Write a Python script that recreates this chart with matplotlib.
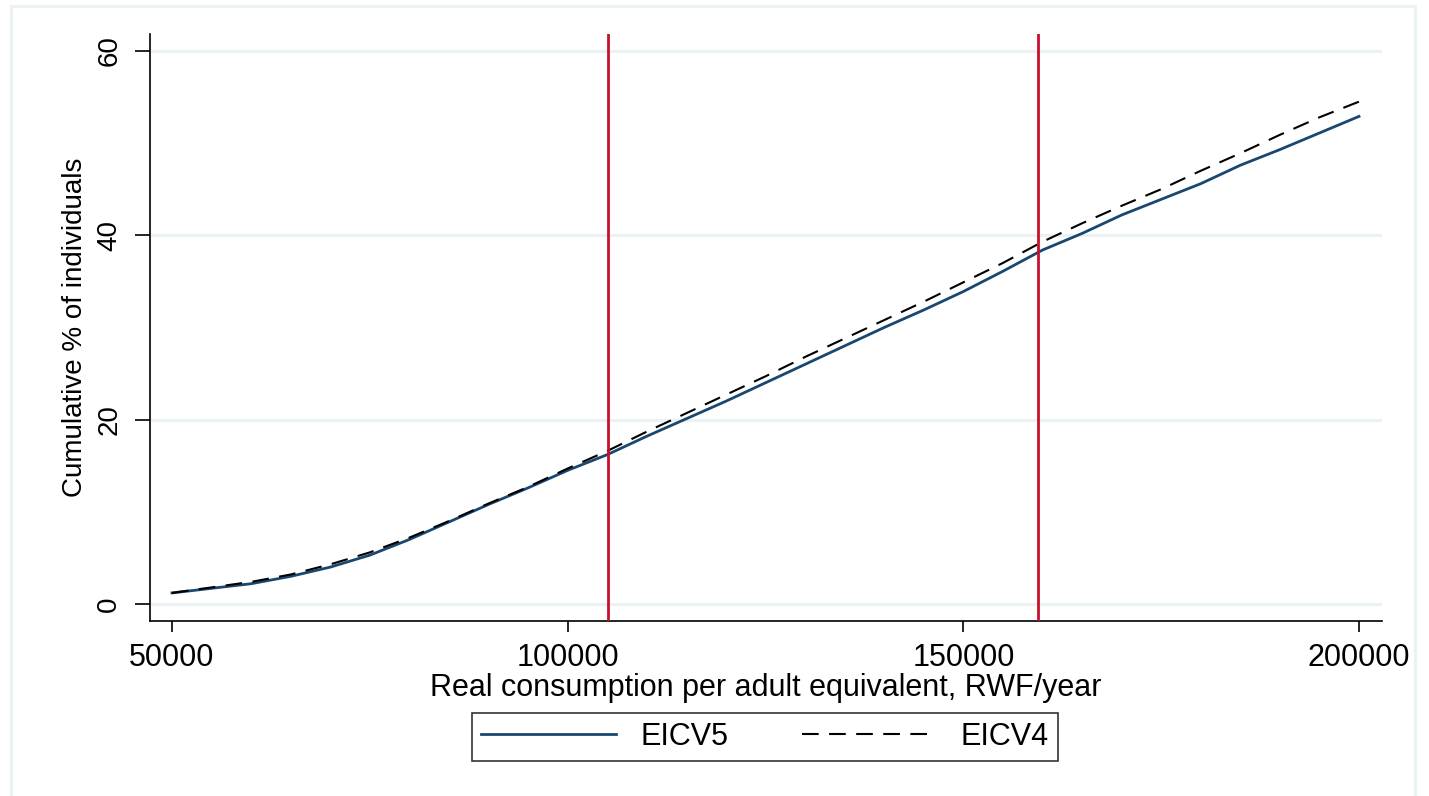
import matplotlib
matplotlib.use("Agg")
import matplotlib.pyplot as plt
from matplotlib.patches import Rectangle

plt.rcParams['font.family'] = ['Liberation Sans', 'DejaVu Sans']

consumption = [50000, 55000, 60000, 65000, 70000, 75000, 80000, 85000, 90000, 95000,
               100000, 105000, 110000, 115000, 120000, 125000, 130000, 135000, 140000,
               145000, 150000, 155000, 160000, 165000, 170000, 175000, 180000, 185000,
               190000, 195000, 200000]
eicv5 = [1.2, 1.7, 2.2, 3.0, 4.0, 5.3, 7.0, 8.9, 10.8, 12.6,
         14.5, 16.2, 18.2, 20.1, 22.0, 24.0, 26.0, 28.0, 30.0,
         31.9, 33.9, 36.1, 38.4, 40.2, 42.2, 43.9, 45.6, 47.6,
         49.3, 51.1, 52.9]
eicv4 = [1.2, 1.8, 2.4, 3.2, 4.3, 5.6, 7.2, 9.0, 10.9, 12.7,
         14.7, 16.6, 18.7, 20.7, 22.7, 24.7, 26.8, 28.8, 30.8,
         32.8, 34.9, 37.0, 39.3, 41.3, 43.2, 45.0, 47.0, 48.9,
         50.9, 52.8, 54.5]
poverty_lines = [105064, 159375]
x_ticks = [50000, 100000, 150000, 200000]
y_ticks = [0, 20, 40, 60]

W, H = 1429, 796
fig = plt.figure(figsize=(W / 100, H / 100), dpi=100)
fig.patch.set_facecolor('white')

# outer frame
fig.patches.append(Rectangle((10.5 / W, -0.02), (1415 - 10.5) / W, 1.02 - 6 / H,
                             transform=fig.transFigure, fill=False,
                             edgecolor='#eaf2f3', linewidth=2.2, zorder=0))

ax = fig.add_axes([150 / W, 1 - 621 / H, (1382 - 150) / W, (621 - 34) / H])
ax.set_xlim(47220, 202906)
ax.set_ylim(-1.845, 61.84)

for y in y_ticks:
    ax.axhline(y, color='#eaf2f3', linewidth=2.2, zorder=1)

ax.plot(consumption, eicv5, color='#1a476f', linewidth=2.0, label='EICV5', zorder=3)
ax.plot(consumption, eicv4, color='black', linewidth=1.5, linestyle=(0, (8, 5)),
        label='EICV4', zorder=3)
for p in poverty_lines:
    ax.axvline(p, color='#c8102e', linewidth=2.0, zorder=4)

for s in ['top', 'right']:
    ax.spines[s].set_visible(False)
for s in ['left', 'bottom']:
    ax.spines[s].set_linewidth(1.2)
    ax.spines[s].set_color('black')

ax.set_xticks(x_ticks)
ax.set_xticklabels([str(v) for v in x_ticks])
ax.set_yticks(y_ticks)
ax.set_yticklabels([str(v) for v in y_ticks], rotation=90, va='center')
ax.tick_params(axis='x', length=8, width=1.2, pad=8, labelsize=22)
ax.tick_params(axis='y', length=11, width=1.2, pad=9, labelsize=20)

ax.set_xlabel('Real consumption per adult equivalent, RWF/year', fontsize=22, labelpad=0)
ax.set_ylabel('Cumulative % of individuals', fontsize=20, labelpad=6)

leg = fig.legend(loc='center', bbox_to_anchor=(765 / W, 1 - 737 / H), ncol=2,
                 fontsize=22, handlelength=4.4, handletextpad=0.8, columnspacing=2.4,
                 fancybox=False, frameon=True, borderpad=0.3, borderaxespad=0)
leg.get_frame().set_edgecolor('black')
leg.get_frame().set_linewidth(1.2)

fig.savefig('out.png', dpi=100, facecolor='white')
